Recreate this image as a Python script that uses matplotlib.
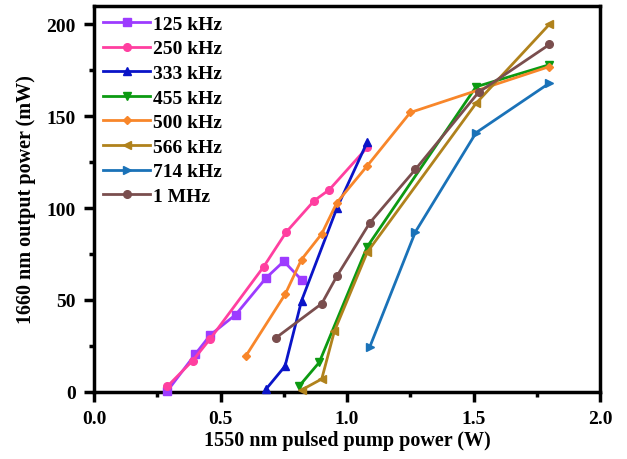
import numpy as np
import matplotlib
matplotlib.use("Agg")
import matplotlib.pyplot as plt
from matplotlib.ticker import MultipleLocator

plt.rcParams['font.family'] = ['Liberation Serif', 'DejaVu Serif']
plt.rcParams['font.weight'] = 'bold'

# ----------------------------
# Data
# ----------------------------
x_125 = [0.29, 0.40, 0.46, 0.56, 0.68, 0.75, 0.82]
y_125 = [0.5, 20.5, 31, 42, 62, 71, 61]

x_250 = [0.29, 0.39, 0.46, 0.67, 0.76, 0.87, 0.93, 1.08]
y_250 = [3, 17, 29, 68, 87, 104, 110, 133]

x_333 = [0.68, 0.755, 0.82, 0.96, 1.08]
y_333 = [1.5, 14, 49.5, 100, 136]

x_455 = [0.81, 0.89, 1.08, 1.51, 1.80]
y_455 = [3, 16, 79, 166, 178]

x_500 = [0.60, 0.755, 0.82, 0.90, 0.96, 1.08, 1.25, 1.80]
y_500 = [19.5, 53, 72, 86, 103, 123, 152, 177]

x_566 = [0.82, 0.90, 0.95, 1.08, 1.51, 1.80]
y_566 = [1, 7, 33, 76, 157, 200]

x_714 = [1.09, 1.27, 1.51, 1.80]
y_714 = [24.5, 87, 141, 168]

x_1m = [0.72, 0.90, 0.96, 1.09, 1.27, 1.52, 1.80]
y_1m = [29.5, 48, 63, 92, 121, 163, 189]

series = [
    ("125 kHz", x_125, y_125, "s", "#9D3BFF"),
    ("250 kHz", x_250, y_250, "o", "#FF3FA0"),
    ("333 kHz", x_333, y_333, "^", "#0A14C8"),
    ("455 kHz", x_455, y_455, "v", "#0C9A12"),
    ("500 kHz", x_500, y_500, "D", "#F8862A"),
    ("566 kHz", x_566, y_566, "<", "#B0821C"),
    ("714 kHz", x_714, y_714, ">", "#1A72B8"),
    ("1 MHz", x_1m, y_1m, "o", "#7A4E4E"),
]

fig = plt.figure(figsize=(6.27, 4.6), dpi=100)
ax = fig.add_axes([0.150, 0.146, 0.807, 0.839])

for label, xs, ys, mk, col in series:
    ms = 4.5 if mk == "D" else 5.5
    ax.plot(xs, ys, marker=mk, color=col, lw=2, ms=ms, label=label, clip_on=False, zorder=3)

ax.set_xlim(0, 2.0)
ax.set_ylim(0, 210)
ax.xaxis.set_major_locator(MultipleLocator(0.5))
ax.xaxis.set_minor_locator(MultipleLocator(0.25))
ax.yaxis.set_major_locator(MultipleLocator(50))
ax.yaxis.set_minor_locator(MultipleLocator(25))
ax.set_xticks(np.arange(0, 2.01, 0.5))
ax.set_xticklabels([f"{v:.1f}" for v in np.arange(0, 2.01, 0.5)])

for s in ax.spines.values():
    s.set_linewidth(2.5)
ax.tick_params(which="major", direction="out", length=7, width=2.5, labelsize=14, pad=6)
ax.tick_params(which="minor", direction="out", length=3.5, width=2.5)

ax.set_xlabel("1550 nm pulsed pump power (W)", fontsize=14.5, fontweight="bold", labelpad=2)
ax.set_ylabel("1660 nm output power (mW)", fontsize=14.5, fontweight="bold", labelpad=8)

leg = ax.legend(loc="upper left", frameon=False, fontsize=14, labelspacing=0.36,
                handlelength=2.4, handletextpad=0.15, borderaxespad=0.0,
                bbox_to_anchor=(0.003, 0.996))
for t in leg.get_texts():
    t.set_fontweight("bold")

fig.savefig("out.png", dpi=100)
